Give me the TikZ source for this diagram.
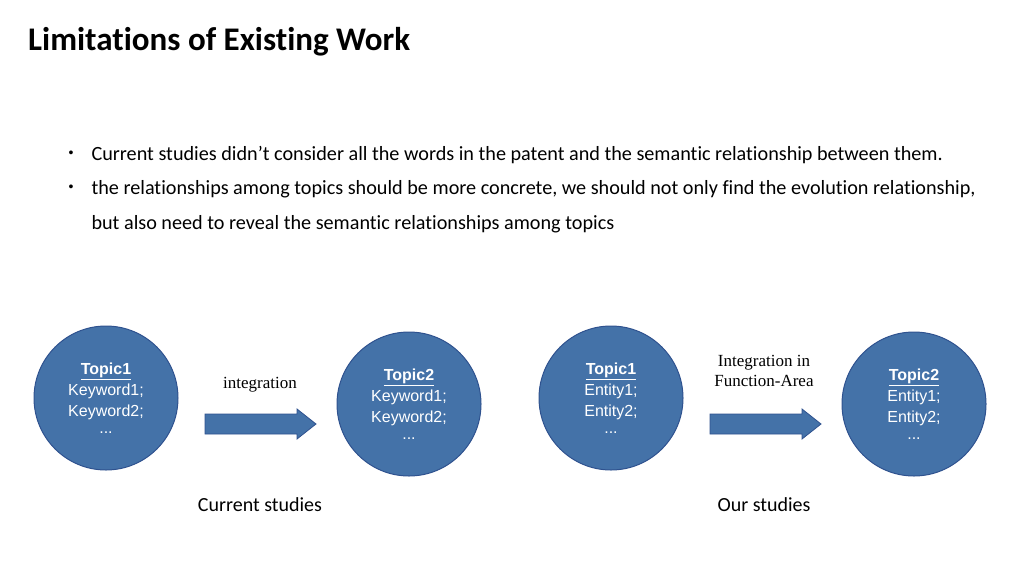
\documentclass[tikz,border=0pt]{standalone}
\usepackage{fontspec}
\setmainfont[Ligatures=NoCommon]{Carlito}
\newfontfamily\ar{Liberation Sans}
\newfontfamily\tm{Liberation Serif}
\definecolor{cfill}{HTML}{4472A8}
\definecolor{cedge}{HTML}{2F528F}
\begin{document}
\begin{tikzpicture}[x=1pt,y=-1pt,
  topic/.style={circle,fill=cfill,draw=cedge,line width=1pt,minimum size=144pt,inner sep=0pt,text=white,align=center,font=\ar\fontsize{16}{21}\selectfont},
  blockarrow/.style={fill=cfill,draw=cedge,line width=0.8pt},
  lbl/.style={font=\tm\fontsize{17}{20}\selectfont,align=center},
  captext/.style={font=\fontsize{20}{24}\selectfont},
  bul/.style={anchor=west,font=\fontsize{20.2}{24}\selectfont}]
\useasboundingbox (0,0) rectangle (1024,576);
\node[anchor=west,inner sep=0pt,font=\bfseries\fontsize{33}{36}\selectfont] (title) at (28,42) {Limitations of Existing Work};
\node[bul] (b1) at (88,155) {Current studies didn't consider all the words in the patent and the semantic relationship between them.};
\node[bul] (b2) at (88,189) {the relationships among topics should be more concrete, we should not only find the evolution relationship,};
\node[bul] (b3) at (88,224) {but also need to reveal the semantic relationships among topics};
\node[font=\ar\fontsize{14}{14}\selectfont] (d1) at (71,154) {•};
\node[font=\ar\fontsize{14}{14}\selectfont] (d2) at (71,188) {•};
\node[topic] (t1) at (106,398) {\textbf{\underline{Topic1}}\\Keyword1;\\Keyword2;\\[-4pt]...};
\node[topic] (t2) at (409,404) {\textbf{\underline{Topic2}}\\Keyword1;\\Keyword2;\\[-4pt]...};
\node[topic] (t3) at (611,398) {\textbf{\underline{Topic1}}\\Entity1;\\Entity2;\\[-4pt]...};
\node[topic] (t4) at (914,404) {\textbf{\underline{Topic2}}\\Entity1;\\Entity2;\\[-4pt]...};
\coordinate (a1) at (205,424);
\coordinate (a2) at (710,424);
\foreach \a in {a1,a2}{
  \draw[blockarrow] ([shift={(0,-10)}]\a) -- ++(92,0) -- ++(0,-5) -- ++(19,15) -- ++(-19,15) -- ++(0,-5) -- ++(-92,0) -- cycle;
}
\node[lbl] (l1) at (260,385) {integration};
\node[lbl] (l2) at (764,371) {Integration in\\Function-Area};
\node[captext] (c1) at (260,505) {Current studies};
\node[captext] (c2) at (764,505) {Our studies};
\end{tikzpicture}
\end{document}
